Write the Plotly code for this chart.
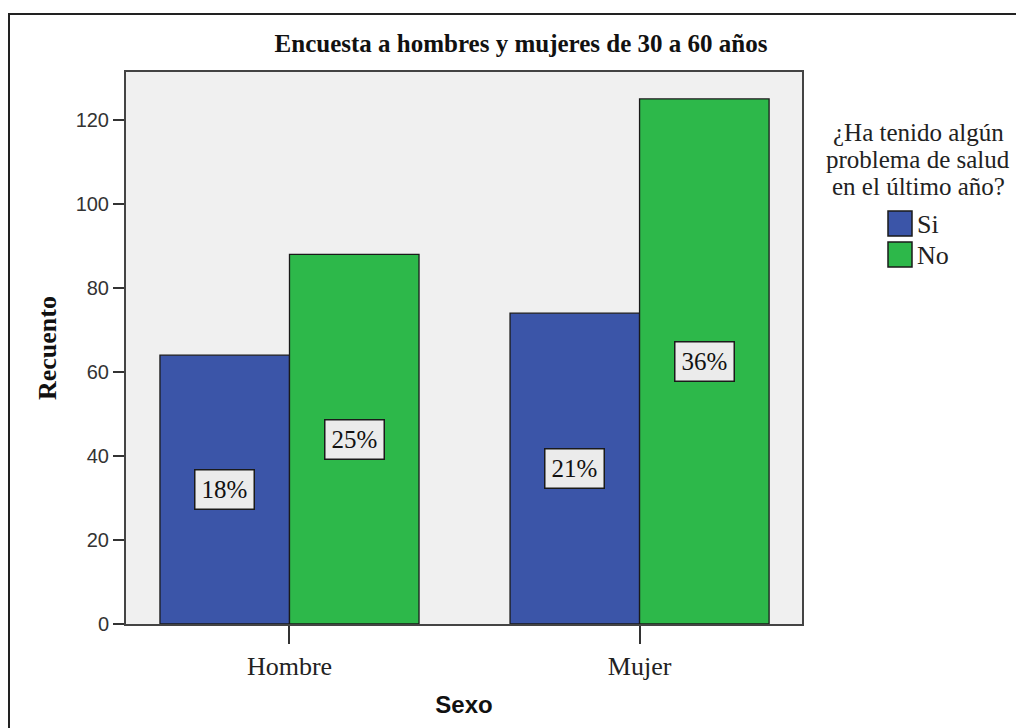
import plotly.graph_objects as go

# ---------------- data ----------------
categories = ["Hombre", "Mujer"]
series_names = ["Si", "No"]
values_si = [64, 74]
values_no = [88, 125]
colors = ["#3b55a8", "#2db84a"]
legend_title_lines = ["¿Ha tenido algún", "problema de salud", "en el último año?"]
title_text = "Encuesta a hombres y mujeres de 30 a 60 años"
y_ticks = [0, 20, 40, 60, 80, 100, 120]

# ---------------- layout geometry ----------------
W, H = 1016, 728
ML, MR, MT, MB = 126, 214, 72, 104
PW, PH = W - ML - MR, H - MT - MB
XRANGE = [-0.467, 1.464]
YRANGE = [0, 131.4]
BARGAP = 0.26

SERIF = "Liberation Serif, Times New Roman, serif"
SANS = "Liberation Sans, Arial, sans-serif"


def px_x(px):
    return (px - ML) / PW


def px_y(py):
    return 1 - (py - MT) / PH


series_values = [values_si, values_no]
total = sum(values_si) + sum(values_no)

fig = go.Figure()
for name, vals, col in zip(series_names, series_values, colors):
    fig.add_trace(go.Bar(
        x=categories, y=vals, name=name,
        marker=dict(color=col, line=dict(color="#1a1a1a", width=1.3)),
        showlegend=False,
    ))

# percentage labels centred in each bar
px_per_unit = PW / (XRANGE[1] - XRANGE[0])
bar_w_units = (1 - BARGAP) / len(series_names)
annotations = []
for i, vals in enumerate(series_values):
    offset_units = (i - (len(series_names) - 1) / 2) * bar_w_units
    for cat, v in zip(categories, vals):
        annotations.append(dict(
            x=cat, y=v / 2, xref="x", yref="y",
            xshift=offset_units * px_per_unit,
            text=f"{round(v / total * 100)}%",
            showarrow=False,
            font=dict(family=SERIF, size=25, color="#111"),
            bgcolor="#ebebeb", bordercolor="#1a1a1a", borderwidth=1.5,
            width=56, height=36, borderpad=1,
        ))

# legend title (manual, SPSS style)
legend_cx = 918
for k, line in enumerate(legend_title_lines):
    annotations.append(dict(
        x=px_x(legend_cx), y=px_y(132 + 27 * k), xref="paper", yref="paper",
        text=line, showarrow=False, xanchor="center", yanchor="middle",
        font=dict(family=SERIF, size=25, color="#222"),
    ))

shapes = []
# legend entries
sw_x0, sw_x1 = 888, 912
for k, (name, col) in enumerate(zip(series_names, colors)):
    y0 = 211 + 31 * k
    shapes.append(dict(
        type="rect", xref="paper", yref="paper",
        x0=px_x(sw_x0), x1=px_x(sw_x1), y0=px_y(y0), y1=px_y(y0 + 25),
        fillcolor=col, line=dict(color="#1a1a1a", width=1.5),
    ))
    annotations.append(dict(
        x=px_x(sw_x1 + 3), y=px_y(y0 + 13), xref="paper", yref="paper",
        text=name, showarrow=False, xanchor="left", yanchor="middle",
        font=dict(family=SERIF, size=26, color="#222"),
    ))

# outer frame (left + top visible)
shapes.append(dict(
    type="rect", xref="paper", yref="paper",
    x0=px_x(9), x1=px_x(W + 20), y0=px_y(H + 20), y1=px_y(14),
    line=dict(color="#222", width=2), fillcolor="rgba(0,0,0,0)", layer="below",
))

fig.update_layout(
    width=W, height=H,
    margin=dict(l=ML, r=MR, t=MT, b=MB, autoexpand=False),
    paper_bgcolor="white", plot_bgcolor="#f0f0f0",
    barmode="group", bargap=BARGAP, bargroupgap=0,
    title=dict(text=title_text, xref="container", x=521 / W, y=1 - 43 / H,
               xanchor="center", yanchor="middle",
               font=dict(family=SERIF, size=25, color="#111", weight="bold")),
    xaxis=dict(
        range=XRANGE, showline=True, mirror=True, linecolor="#444", linewidth=2,
        ticks="outside", ticklen=18, tickwidth=1.5, tickcolor="#333",
        tickfont=dict(family=SERIF, size=26, color="#222"),
        title=dict(text="Sexo", standoff=16,
                   font=dict(family=SANS, size=24, color="#111", weight="bold")),
        showgrid=False, automargin=False,
    ),
    yaxis=dict(
        range=YRANGE, tickvals=y_ticks, showline=True, mirror=True,
        linecolor="#444", linewidth=2,
        ticks="outside", ticklen=11, tickwidth=2, tickcolor="#333",
        ticklabelstandoff=0,
        tickfont=dict(family=SANS, size=20, color="#333"),
        title=dict(text="Recuento", standoff=12,
                   font=dict(family=SERIF, size=26, color="#111", weight="bold")),
        showgrid=False, zeroline=False, automargin=False,
    ),
    annotations=annotations, shapes=shapes,
)

fig.write_html("out.html")
